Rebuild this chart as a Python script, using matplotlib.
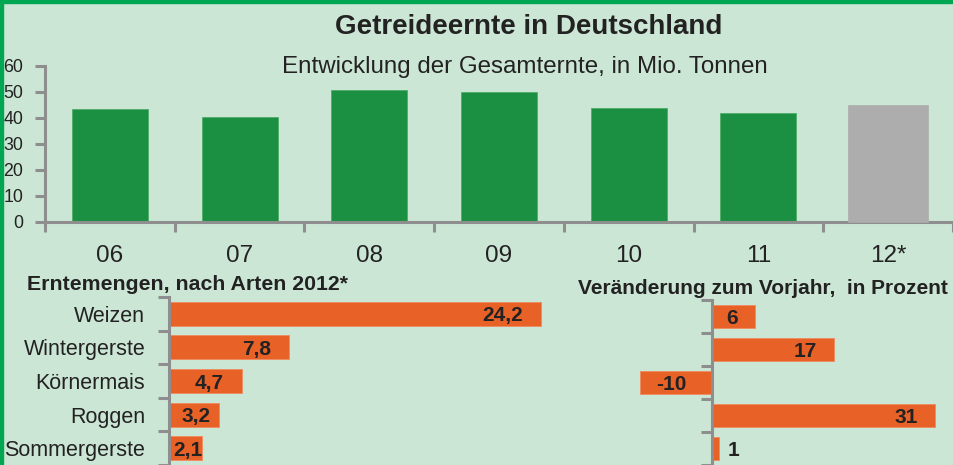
import matplotlib
matplotlib.use("Agg")
import matplotlib.pyplot as plt
from matplotlib.patches import Rectangle
import numpy as np

# ---- data ----
years = ['06', '07', '08', '09', '10', '11', '12*']
harvest = [43.2, 40.2, 50.6, 49.8, 43.8, 41.7, 44.5]
crops = ['Weizen', 'Wintergerste', 'Körnermais', 'Roggen', 'Sommergerste']
amounts = [24.2, 7.8, 4.7, 3.2, 2.1]
changes = [6, 17, -10, 31, 1]

# ---- style ----
BG = '#CCE6D5'
GREEN = '#1B8F42'
GREY = '#ADADAD'
ORANGE = '#E86126'
AXIS = '#8E8E8E'
BORDER = '#00A651'
TXT = '#222222'
plt.rcParams['font.family'] = ['Liberation Sans', 'DejaVu Sans']

W, H = 954, 465
fig = plt.figure(figsize=(W / 100, H / 100), dpi=100, facecolor=BG)

def px_axes(left, top, right, bottom):
    return fig.add_axes([left / W, 1 - bottom / H, (right - left) / W, (bottom - top) / H])

# ---- top chart ----
ax = px_axes(45, 65.7, 953, 221.7)
ax.set_facecolor('none')
x = np.arange(len(years))
for i, (xx, v) in enumerate(zip(x, harvest)):
    if i == len(years) - 1:
        ax.bar(xx, v, width=0.61, color=GREY, edgecolor=GREY, linewidth=1.2, zorder=4, clip_on=False)
    else:
        ax.bar(xx, v, width=0.585, color=GREEN, edgecolor='#4FAE6A', linewidth=0.6, zorder=2)
ax.set_xlim(-0.5, len(years) - 0.5)
ax.set_ylim(0, 60)
ax.set_yticks(range(0, 61, 10))
ax.set_xticks(x)
ax.set_xticklabels(years)
ax.set_xticks(np.arange(-0.5, len(years), 1), minor=True)
ax.tick_params(axis='x', which='major', length=0, pad=17, labelsize=17.5, labelcolor=TXT)
ax.tick_params(axis='x', which='minor', length=7, width=2.2, color=AXIS, direction='out')
ax.tick_params(axis='y', length=7, width=2.2, color=AXIS, pad=8.5, labelsize=12.8, labelcolor=TXT)
for s in ['top', 'right']:
    ax.spines[s].set_visible(False)
for s in ['left', 'bottom']:
    ax.spines[s].set_color(AXIS)
    ax.spines[s].set_linewidth(2.2)

fig.text(529 / W, 1 - 27 / H, 'Getreideernte in Deutschland', ha='center', va='center',
         fontsize=20, fontweight='bold', color=TXT)
fig.text(525 / W, 1 - 67 / H, 'Entwicklung der Gesamternte, in Mio. Tonnen', ha='center', va='center',
         fontsize=17.4, color=TXT)

# ---- bottom left: amounts ----
ROW = 34.5
SC1 = 15.35
X0L = 169.5
axl = px_axes(X0L, 297, X0L + SC1 * 26, 465)
axl.set_facecolor('none')
yl = np.arange(len(crops))
axl.barh(yl, amounts, height=0.72, color=ORANGE, edgecolor='#F08A5E', linewidth=0.6, zorder=2)
axl.set_xlim(0, 26)
axl.set_ylim(-0.5 + (465 - 297) / ROW, -0.5)
axl.set_yticks(yl)
axl.set_yticklabels(crops)
axl.set_yticks(np.arange(-0.5, len(crops) + 0.5, 1), minor=True)
axl.tick_params(axis='y', which='major', length=0, pad=17.5, labelsize=15.5, labelcolor=TXT)
axl.tick_params(axis='y', which='minor', length=8, width=2.2, color=AXIS)
axl.set_xticks([])
for s in ['top', 'right', 'bottom']:
    axl.spines[s].set_visible(False)
axl.spines['left'].set_color(AXIS)
axl.spines['left'].set_linewidth(2.2)
for yy, v in zip(yl, amounts):
    lab = f'{v:.1f}'.replace('.', ',')
    if v >= 4:
        axl.annotate(lab, (v, yy), xytext=(-18, 0), textcoords='offset pixels', ha='right',
                     va='center_baseline', fontsize=15, fontweight='bold', color=TXT, zorder=5)
    else:
        axl.annotate(lab, (v / 2, yy), xytext=(2, 0), textcoords='offset pixels', ha='center',
                     va='center_baseline', fontsize=15, fontweight='bold', color=TXT, zorder=5)
fig.text(27 / W, 1 - 285 / H, 'Erntemengen, nach Arten 2012*', ha='left', va='center',
         fontsize=15.3, fontweight='bold', color=TXT)

# ---- bottom right: change ----
ROW2 = 34.3
SC2 = 7.18
X0R = 712
axr = px_axes(X0R - 12 * SC2, 300, X0R + 34 * SC2, 465)
axr.set_facecolor('none')
axr.barh(yl, changes, height=0.72, color=ORANGE, edgecolor='#F08A5E', linewidth=0.6, zorder=2)
axr.set_xlim(-12, 34)
axr.set_ylim(-0.5 + (465 - 300) / ROW2, -0.5)
axr.set_yticks(np.arange(-0.5, len(crops) + 0.5, 1))
axr.set_yticklabels([])
axr.tick_params(axis='y', length=8, width=2.2, color=AXIS)
axr.set_xticks([])
for s in ['top', 'right', 'bottom']:
    axr.spines[s].set_visible(False)
axr.spines['left'].set_position(('data', 0))
axr.spines['left'].set_color(AXIS)
axr.spines['left'].set_linewidth(2.2)
axr.spines['left'].set_zorder(3)
for yy, v in zip(yl, changes):
    lab = f'{v:d}'
    if v >= 5:
        axr.annotate(lab, (v, yy), xytext=(-17, 0), textcoords='offset pixels', ha='right',
                     va='center_baseline', fontsize=15, fontweight='bold', color=TXT, zorder=5)
    elif v <= -5:
        axr.annotate(lab, (v, yy), xytext=(16, 0), textcoords='offset pixels', ha='left',
                     va='center_baseline', fontsize=15, fontweight='bold', color=TXT, zorder=5)
    else:
        axr.annotate(lab, (v, yy), xytext=(8, 0), textcoords='offset pixels', ha='left',
                     va='center_baseline', fontsize=15, fontweight='bold', color=TXT, zorder=5)
fig.text(578 / W, 1 - 289 / H, 'Veränderung zum Vorjahr,  in Prozent', ha='left', va='center',
         fontsize=15.0, fontweight='bold', color=TXT)

# ---- green border (top & left) ----
fig.add_artist(Rectangle((0, 1 - 3 / H), 1, 3 / H, transform=fig.transFigure, color=BORDER, zorder=10))
fig.add_artist(Rectangle((0, 0), 3 / W, 1, transform=fig.transFigure, color=BORDER, zorder=10))

fig.savefig('out.png', dpi=100, facecolor=BG)
